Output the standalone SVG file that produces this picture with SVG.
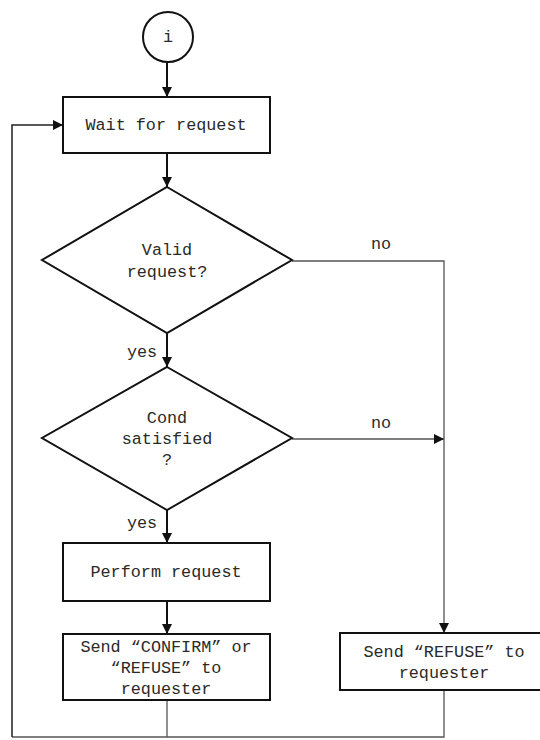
<svg xmlns="http://www.w3.org/2000/svg" width="540" height="740" viewBox="0 0 540 740">
  <style>
    .shape { fill: #fff; stroke: #111; stroke-width: 2; }
    .label { font-family: "Liberation Mono", "DejaVu Sans Mono", monospace; font-size: 16.8px; fill: #2a2a2a; text-anchor: middle; }
    .flow { fill: none; stroke: #111; stroke-width: 2; }
    .thin { fill: none; stroke: #555; stroke-width: 1.3; }
    .loop { fill: none; stroke: #222; stroke-width: 1.5; }
  </style>
  <defs>
    <marker id="arrow" viewBox="0 0 10 10" refX="10" refY="5" markerWidth="10" markerHeight="10" markerUnits="userSpaceOnUse" orient="auto">
      <path d="M0,0 L10,5 L0,10 Z" fill="#111"/>
    </marker>
  </defs>
  <rect width="540" height="740" fill="#fff"/>

  <g id="connectors">
    <line class="flow" x1="167" y1="62" x2="167" y2="97" marker-end="url(#arrow)"/>
    <line class="flow" x1="167" y1="153" x2="167" y2="187" marker-end="url(#arrow)"/>
    <line class="flow" x1="167" y1="333" x2="167" y2="367" marker-end="url(#arrow)"/>
    <line class="flow" x1="167" y1="510" x2="167" y2="543" marker-end="url(#arrow)"/>
    <line class="flow" x1="167" y1="601" x2="167" y2="634" marker-end="url(#arrow)"/>
    <polyline class="thin" points="292,261 444,261 444,633" marker-end="url(#arrow)"/>
    <line class="thin" x1="292" y1="439" x2="444" y2="439" marker-end="url(#arrow)"/>
    <line class="thin" x1="167" y1="700" x2="167" y2="737"/>
    <polyline class="thin" points="444,690 444,737 12,737"/>
    <polyline class="loop" points="12,737 12,125 63,125" marker-end="url(#arrow)"/>
    <text class="label" x="381" y="249">no</text>
    <text class="label" x="381" y="428">no</text>
    <text class="label" x="142" y="357">yes</text>
    <text class="label" x="142" y="528">yes</text>
  </g>

  <g id="start">
    <circle class="shape" cx="168" cy="37" r="25"/>
    <text class="label" x="168" y="42">i</text>
  </g>

  <g id="wait">
    <rect class="shape" x="63" y="97" width="207" height="56"/>
    <text class="label" x="166" y="130">Wait for request</text>
  </g>

  <g id="valid">
    <polygon class="shape" points="167,187 292,260 167,333 42,260"/>
    <text class="label" x="167" y="255">Valid</text>
    <text class="label" x="167" y="277">request?</text>
  </g>

  <g id="cond">
    <polygon class="shape" points="167,367 292,438 167,510 42,438"/>
    <text class="label" x="167" y="423">Cond</text>
    <text class="label" x="167" y="444">satisfied</text>
    <text class="label" x="167" y="465">?</text>
  </g>

  <g id="perform">
    <rect class="shape" x="63" y="543" width="207" height="58"/>
    <text class="label" x="166" y="577">Perform request</text>
  </g>

  <g id="confirm">
    <rect class="shape" x="63" y="634" width="207" height="66"/>
    <text class="label" x="166" y="652">Send “CONFIRM” or</text>
    <text class="label" x="166" y="673">“REFUSE” to</text>
    <text class="label" x="166" y="694">requester</text>
  </g>

  <g id="refuse">
    <rect class="shape" x="340" y="633" width="208" height="57"/>
    <text class="label" x="444" y="657">Send “REFUSE” to</text>
    <text class="label" x="444" y="678">requester</text>
  </g>
</svg>
